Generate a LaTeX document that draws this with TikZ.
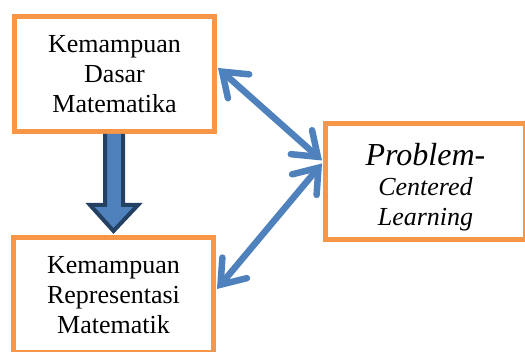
\documentclass[tikz,border=0pt]{standalone}
\usepackage{fontspec}
\setmainfont{Liberation Serif}
\usepackage{tikz}
\usetikzlibrary{positioning,calc,arrows.meta}
\definecolor{boxOrange}{RGB}{247, 150, 70}
\definecolor{arrowBlue}{RGB}{79, 129, 189}
\definecolor{arrowNavy}{RGB}{36, 64, 98}
\tikzset{
  conceptbox/.style={draw=boxOrange,line width=5pt,fill=white,
    minimum width=200pt,minimum height=115pt,align=center,
    font=\fontsize{26}{30}\selectfont},
  linkarrow/.style={draw=arrowBlue,line width=6.5pt,line cap=round,
    {Straight Barb[length=22pt,width=32pt,line cap=round]}-{Straight Barb[length=22pt,width=32pt,line cap=round]}}
}
\begin{document}
\begin{tikzpicture}[x=1pt,y=1pt]
    \useasboundingbox (0,0) rectangle (525,352);
    \begin{scope}
        \clip (0,0) rectangle (525,352);
        % concept boxes
        \node[conceptbox] (dasar) at (114.5,278) {Kemampuan\\Dasar\\Matematika};
        \node[conceptbox] (repr) at (113.5,57) {Kemampuan\\Representasi\\Matematik};
        \node[conceptbox,minimum height=116pt,font=\fontsize{26}{30}\selectfont\itshape] (pcl) at (425.5,170.5) {%
            \fontsize{32}{34}\selectfont\rule{0pt}{33pt}Problem-\\Centered\\Learning};

        % block arrow between the two abilities
        \draw[arrowNavy,line width=4pt,fill=arrowBlue,line join=miter]
            ($(dasar.south)+(-9.5,0)$) coordinate (shaftL) -- ++(0,-71) -- ++(-15,0)
            -- ($(repr.north)+(0,4)$) coordinate (tip)
            -- ($(shaftL)+(33,-71)$) -- ++(-15,0) -- ++(0,71);

        % links to the learning model
        \draw[linkarrow] ($(dasar.east)+(1,6)$) -- ($(pcl.west)+(-1,21)$);
        \draw[linkarrow] ($(pcl.west)+(-1,18)$) -- ($(repr.east)+(1,6)$);
    \end{scope}
\end{tikzpicture}
\end{document}
